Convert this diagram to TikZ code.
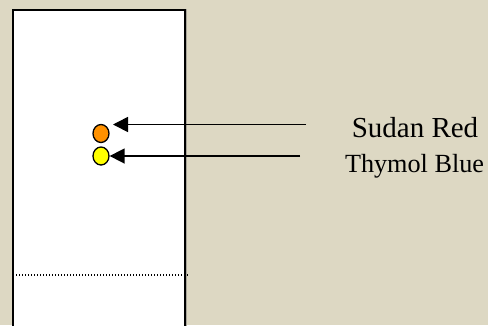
\documentclass[tikz,border=0pt]{standalone}
\usepackage{fontspec}
\setmainfont{Liberation Serif}
\usetikzlibrary{arrows.meta,shapes.geometric}
\definecolor{bgbeige}{HTML}{DDD8C3}
\definecolor{shadowgray}{HTML}{A8A59A}
\definecolor{dotorange}{HTML}{FF9100}
\definecolor{dotyellow}{HTML}{FFFF00}
\tikzset{
  spot/.style={ellipse, draw=black, line width=1.3pt, minimum width=16pt, minimum height=18pt, inner sep=0pt},
  pointer/.style={line width=1.6pt, -{Triangle[length=15pt,width=15pt]}},
  lbl/.style={anchor=base, inner sep=0pt}
}
\begin{document}
\begin{tikzpicture}[x=1pt,y=-1pt]
\fill[bgbeige] (0,0) rectangle (488,325);
\useasboundingbox (0,0) rectangle (488,325);
\fill[shadowgray] (14,8.5) rectangle (187,330);
\draw[line width=1.5pt, fill=white] (13,10) -- (13,330) -- (185,330) -- (185,10) -- cycle;
\draw[line width=1.3pt, dash pattern=on 1.3pt off 1.7pt] (16,275) -- (189,275);
\node[spot, fill=dotorange] (red) at (101,133.5) {};
\node[spot, fill=dotyellow] (blue) at (101,156) {};
\coordinate (tip1) at (113,124.5);
\coordinate (start1) at (306,124.5);
\coordinate (start2) at (300,156);
\draw[pointer] (start1) -- (tip1);
\draw[pointer] (start2) -- (blue.east);
\node[lbl, font=\fontsize{29}{31}\selectfont] (tred) at (415,137.5) {Sudan Red};
\node[lbl, font=\fontsize{26.2}{28}\selectfont] (tblue) at (414.5,172) {Thymol Blue};
\end{tikzpicture}
\end{document}
